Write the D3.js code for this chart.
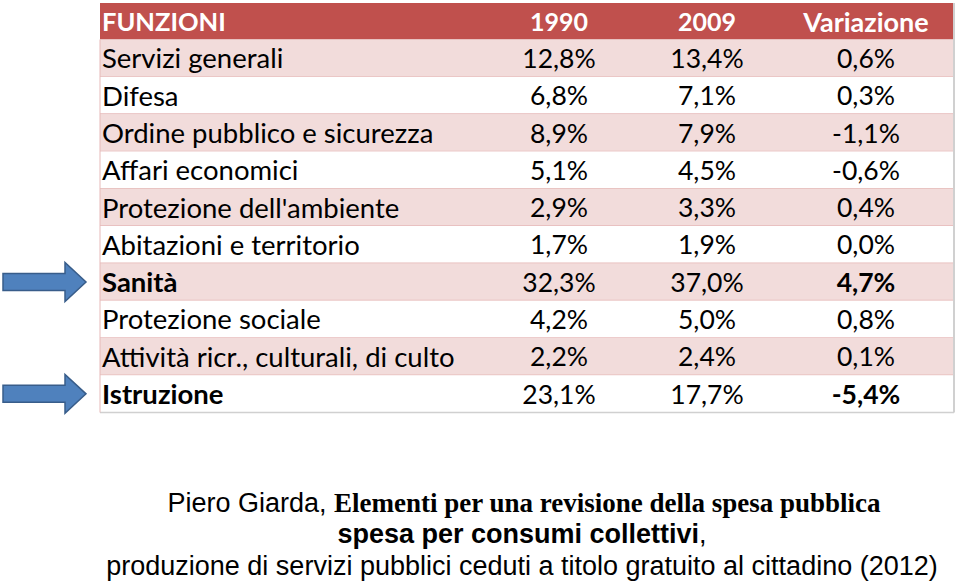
<!DOCTYPE html>
<html><head><meta charset="utf-8">
<script src="https://cdn.jsdelivr.net/npm/d3@7"></script>
<style>body{margin:0;background:#fff}svg{display:block}</style>
</head><body><svg id="c" width="960" height="584"></svg>
<script>
const headers = ["FUNZIONI", "1990", "2009", "Variazione"];
const categories = ["Servizi generali","Difesa","Ordine pubblico e sicurezza","Affari economici","Protezione dell'ambiente","Abitazioni e territorio","Sanità","Protezione sociale","Attività ricr., culturali, di culto","Istruzione"];
const values1990 = ["12,8%","6,8%","8,9%","5,1%","2,9%","1,7%","32,3%","4,2%","2,2%","23,1%"];
const values2009 = ["13,4%","7,1%","7,9%","4,5%","3,3%","1,9%","37,0%","5,0%","2,4%","17,7%"];
const variazione = ["0,6%","0,3%","-1,1%","-0,6%","0,4%","0,0%","4,7%","0,8%","0,1%","-5,4%"];
const highlighted = ["Sanità","Istruzione"];

(function(){
const svg = d3.select("#c");
const F = "Lato, 'Open Sans', sans-serif";
const tLeft = 100, tRight = 954, tTop = 3, headH = 36.5, rowH = 37.3;
const y = d3.scaleBand().domain(categories).range([tTop+headH, tTop+headH+rowH*categories.length]).padding(0);
const colX = d3.scaleOrdinal().domain(["1990","2009","Variazione"]).range([559, 707, 866]);
const headSize = {"1990":25,"2009":25,"Variazione":27};

svg.append("rect").attr("x",tLeft).attr("y",tTop).attr("width",tRight-tLeft).attr("height",headH).attr("fill","#c0504d");
svg.append("text").attr("x",tLeft+2).attr("y",tTop+headH/2).attr("dy","0.38em").attr("font-family",F).attr("font-weight","bold").attr("font-size",25.5).attr("fill","#fff").text(headers[0]);
headers.slice(1).forEach(h=>{
  svg.append("text").attr("x",colX(h)).attr("y",tTop+headH/2).attr("dy","0.38em").attr("text-anchor","middle").attr("font-family",F).attr("font-weight","bold").attr("font-size",headSize[h]).attr("fill","#fff").text(h);
});

const rows = svg.selectAll("g.row").data(categories).join("g").attr("class","row");
rows.append("rect").attr("x",tLeft).attr("y",d=>y(d)).attr("width",tRight-tLeft).attr("height",y.bandwidth())
  .attr("fill",(d,i)=> i%2===0 ? "#f2dcdb" : "#ffffff");
rows.append("line").attr("x1",tLeft).attr("x2",tRight).attr("y1",d=>y(d)+y.bandwidth()).attr("y2",d=>y(d)+y.bandwidth())
  .attr("stroke",(d,i)=> i===categories.length-1 ? "#d0d0d0" : "#e6b9b8").attr("stroke-width",1.5);
const bold = d => highlighted.includes(d) ? "bold" : "normal";
rows.append("text").attr("x",tLeft+2).attr("y",d=>y(d)+y.bandwidth()/2).attr("dy","0.37em")
  .attr("font-family",F).attr("font-size",27.5).attr("font-weight",bold).attr("fill","#000").text(d=>d);
[["1990",values1990,false],["2009",values2009,false],["Variazione",variazione,true]].forEach(([k,arr,b])=>{
  rows.append("text").attr("x",colX(k)).attr("y",d=>y(d)+y.bandwidth()/2).attr("dy","0.37em").attr("text-anchor","middle")
   .attr("font-family",F).attr("font-size",26.5).attr("font-weight",d=> b ? bold(d) : "normal").attr("fill","#000")
   .text((d,i)=>arr[i]);
});
svg.append("line").attr("x1",tLeft).attr("x2",tLeft).attr("y1",tTop+headH).attr("y2",y.range()[1]).attr("stroke","#e6b9b8").attr("stroke-width",1);
svg.append("line").attr("x1",tRight).attr("x2",tRight).attr("y1",tTop).attr("y2",y.range()[1]).attr("stroke","#d0d0d0").attr("stroke-width",2);

highlighted.forEach(h=>{
  const cy = y(h)+y.bandwidth()/2;
  const x0=3, xh=65, xt=86, sh=8.5, hh=19.5;
  const p = `M${x0},${cy-sh}L${xh},${cy-sh}L${xh},${cy-hh}L${xt},${cy}L${xh},${cy+hh}L${xh},${cy+sh}L${x0},${cy+sh}Z`;
  svg.append("path").attr("d",p).attr("fill","#4f81bd").attr("stroke","#385d8a").attr("stroke-width",1.5);
});

const A = "'Liberation Sans', Arial, sans-serif";
const fs = 27;
const t1 = svg.append("text").attr("x",524).attr("y",512).attr("text-anchor","middle").attr("font-size",fs).attr("fill","#000");
t1.append("tspan").attr("font-family",A).text("Piero Giarda, ");
t1.append("tspan").attr("font-family","'Liberation Serif', 'Times New Roman', serif").attr("font-weight","bold").text("Elementi per una revisione della spesa pubblica");
const t2 = svg.append("text").attr("x",522).attr("y",543).attr("text-anchor","middle").attr("font-size",fs).attr("font-family",A).attr("fill","#000");
t2.append("tspan").attr("font-weight","bold").text("spesa per consumi collettivi");
t2.append("tspan").text(",");
svg.append("text").attr("x",522).attr("y",575).attr("text-anchor","middle").attr("font-size",fs).attr("font-family",A).attr("fill","#000")
  .text("produzione di servizi pubblici ceduti a titolo gratuito al cittadino (2012)");
})();
</script></body></html>
